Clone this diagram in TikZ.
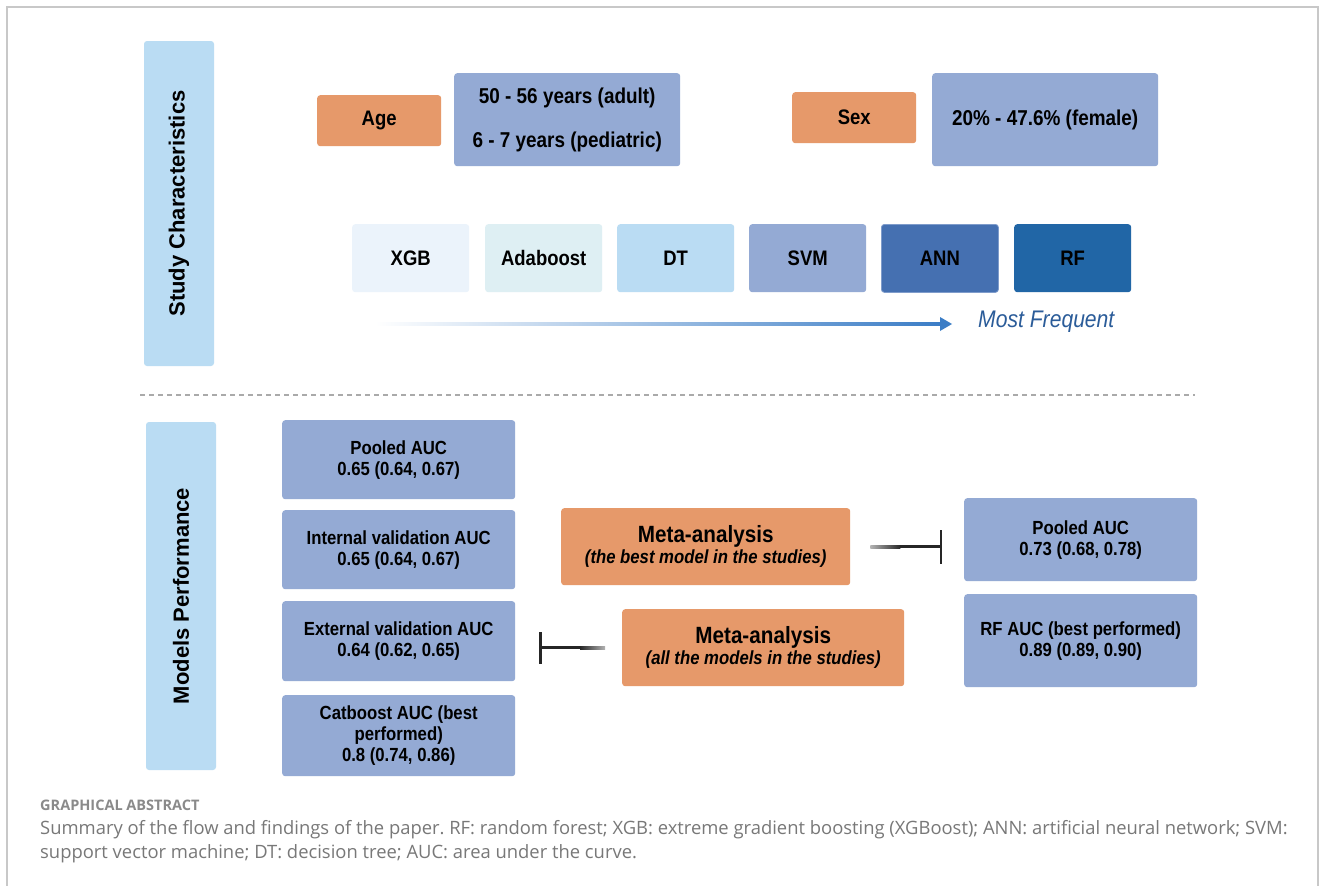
\documentclass[tikz,border=0pt]{standalone}
\usepackage{fontspec}
\setmainfont{Liberation Sans}
\newfontfamily\boxfont[FakeStretch=0.88]{Liberation Sans}
\newfontfamily\capfont{Open Sans}
\definecolor{framegray}{HTML}{C8C8C8}
\definecolor{dashgray}{HTML}{AAAAAA}
\definecolor{barblue}{HTML}{BADCF3}
\definecolor{boxorange}{HTML}{E6996A}
\definecolor{boxslate}{HTML}{94AAD4}
\definecolor{xgbc}{HTML}{EBF3FB}
\definecolor{adac}{HTML}{DEEFF3}
\definecolor{dtc}{HTML}{BADCF3}
\definecolor{svmc}{HTML}{94AAD4}
\definecolor{annc}{HTML}{4570B1}
\definecolor{annedge}{HTML}{7F9CCB}
\definecolor{rfc}{HTML}{2166A6}
\definecolor{arrowblue}{HTML}{3B7DC6}
\definecolor{freqblue}{HTML}{2B5C99}
\definecolor{capgray}{HTML}{787878}
\definecolor{capheadgray}{HTML}{8A8A8A}
\frenchspacing
\begin{document}
\begin{tikzpicture}[x=1pt,y=-1pt,
  box/.style={rounded corners=3pt, anchor=north west, inner sep=0pt, align=center, text=black,
    font=\boxfont\bfseries\fontsize{19}{21}\selectfont},
  sidebar/.style={rounded corners=3pt, fill=barblue, rotate=90, inner sep=0pt, text=black,
    font=\bfseries\fontsize{22}{26}\selectfont},
  labelbox/.style={box, fill=boxorange, minimum width=124pt, minimum height=51pt,
    font=\boxfont\bfseries\fontsize{21}{24}\selectfont},
  valbox/.style={box, fill=boxslate, minimum width=226pt, minimum height=93pt,
    font=\boxfont\bfseries\fontsize{21.5}{24}\selectfont},
  modelbox/.style={box, minimum width=117pt, minimum height=68pt,
    font=\boxfont\bfseries\fontsize{21}{24}\selectfont},
  aucbox/.style={box, fill=boxslate, minimum width=233pt},
  metabox/.style={box, fill=boxorange, minimum height=77pt},
  tbar/.style={line width=2.4pt, black!85}
]
\useasboundingbox (0,0) rectangle (1331,886);
\fill[white] (0,0) rectangle (1331,886);
\draw[framegray, line width=1.2pt] (7,886) -- (7,7) -- (1318,7) -- (1318,886);

% side bars
\node[sidebar, minimum width=325pt, minimum height=70pt] (scbar) at (179,203.5) {Study Characteristics};
\node[sidebar, minimum width=348pt, minimum height=70pt] (mpbar) at (181,596) {Models Performance};

% age / sex
\node[labelbox] (age) at (317,95) {Age};
\node[valbox] (agev) at (454,73) {50 - 56 years (adult)\\[20pt]6 - 7 years (pediatric)};
\node[labelbox] (sex) at (792,92) {Sex};
\node[valbox] (sexv) at (932,73) {20\% - 47.6\% (female)};

% models row
\node[modelbox, fill=xgbc] (xgb) at (352,224) {XGB};
\node[modelbox, fill=adac] (ada) at (485,224) {Adaboost};
\node[modelbox, fill=dtc] (dt) at (617,224) {DT};
\node[modelbox, fill=svmc] (svm) at (749,224) {SVM};
\node[modelbox, fill=annc, draw=annedge, line width=0.8pt] (ann) at (881,224) {ANN};
\node[modelbox, fill=rfc] (rf) at (1014,224) {RF};

% frequency arrow
\coordinate (fa) at (375,324);
\coordinate (fb) at (940,324);
\shade[left color=white, right color=arrowblue] ([yshift=-1.6pt]fa) rectangle ([yshift=1.6pt]fb);
\fill[arrowblue] ([yshift=-7pt]fb) -- ([xshift=12pt]fb) -- ([yshift=7pt]fb) -- cycle;
\node[anchor=west, inner sep=0pt, text=freqblue, font=\boxfont\itshape\fontsize{24}{28}\selectfont] (freq) at (978,322) {Most Frequent};

% separator
\draw[dashgray, line width=1.5pt, dash pattern=on 5pt off 4pt] (140,395) -- (1195,395);

% left AUC boxes
\node[aucbox, minimum height=79pt] (pool) at (282,420) {Pooled AUC\\0.65 (0.64, 0.67)};
\node[aucbox, minimum height=79pt] (intv) at (282,510) {Internal validation AUC\\0.65 (0.64, 0.67)};
\node[aucbox, minimum height=80pt] (extv) at (282,601) {External validation AUC\\0.64 (0.62, 0.65)};
\node[aucbox, minimum height=81pt] (cat) at (282,695) {Catboost AUC (best\\performed)\\0.8 (0.74, 0.86)};

% meta-analysis boxes
\node[metabox, minimum width=289pt] (metabest) at (561,508)
  {{\fontsize{23.5}{26}\selectfont Meta-analysis}\\{\itshape\fontsize{19}{22}\selectfont (the best model in the studies)}};
\node[metabox, minimum width=282pt] (metaall) at (622,609)
  {{\fontsize{23.5}{26}\selectfont Meta-analysis}\\{\itshape\fontsize{19}{22}\selectfont (all the models in the studies)}};

% right AUC boxes
\node[aucbox, minimum height=83pt] (poolr) at (964,498) {Pooled AUC\\0.73 (0.68, 0.78)};
\node[aucbox, minimum height=93pt] (rfauc) at (964,594) {RF AUC (best performed)\\0.89 (0.89, 0.90)};

% inhibition-style connectors
\coordinate (c1a) at ([xshift=20pt]metabest.east);
\coordinate (c1m) at ([xshift=50pt]metabest.east);
\coordinate (c1b) at ([xshift=-23pt]poolr.west |- metabest.east);
\shade[left color=white!70!black, right color=black!85] ([yshift=-1.3pt]c1a) rectangle ([yshift=1.3pt]c1m);
\fill[black!85] ([yshift=-1.3pt]c1m) rectangle ([yshift=1.3pt]c1b);
\draw[tbar] ([yshift=-17pt]c1b) -- ([yshift=17pt]c1b);

\coordinate (c2a) at ([xshift=-17pt]metaall.west);
\coordinate (c2m) at ([xshift=-42pt]metaall.west);
\coordinate (c2b) at ([xshift=25pt]extv.east |- metaall.west);
\shade[left color=black!85, right color=white!70!black] ([yshift=-1.3pt]c2m) rectangle ([yshift=1.3pt]c2a);
\fill[black!85] ([yshift=-1.3pt]c2b) rectangle ([yshift=1.3pt]c2m);
\draw[tbar] ([yshift=-16pt]c2b) -- ([yshift=16pt]c2b);

% caption
\node[anchor=west, inner sep=0pt, text=capheadgray, font=\capfont\bfseries\fontsize{14.5}{17}\selectfont] (caphead) at (40,805) {GRAPHICAL ABSTRACT};
\node[anchor=north west, inner sep=0pt, text=capgray, align=left, font=\capfont\fontsize{18.4}{24}\selectfont] (captext) at (40,820)
  {Summary of the flow and findings of the paper. RF: random forest; XGB: extreme gradient boosting (XGBoost); ANN: artificial neural network; SVM:\\
   support vector machine; DT: decision tree; AUC: area under the curve.};
\end{tikzpicture}
\end{document}
